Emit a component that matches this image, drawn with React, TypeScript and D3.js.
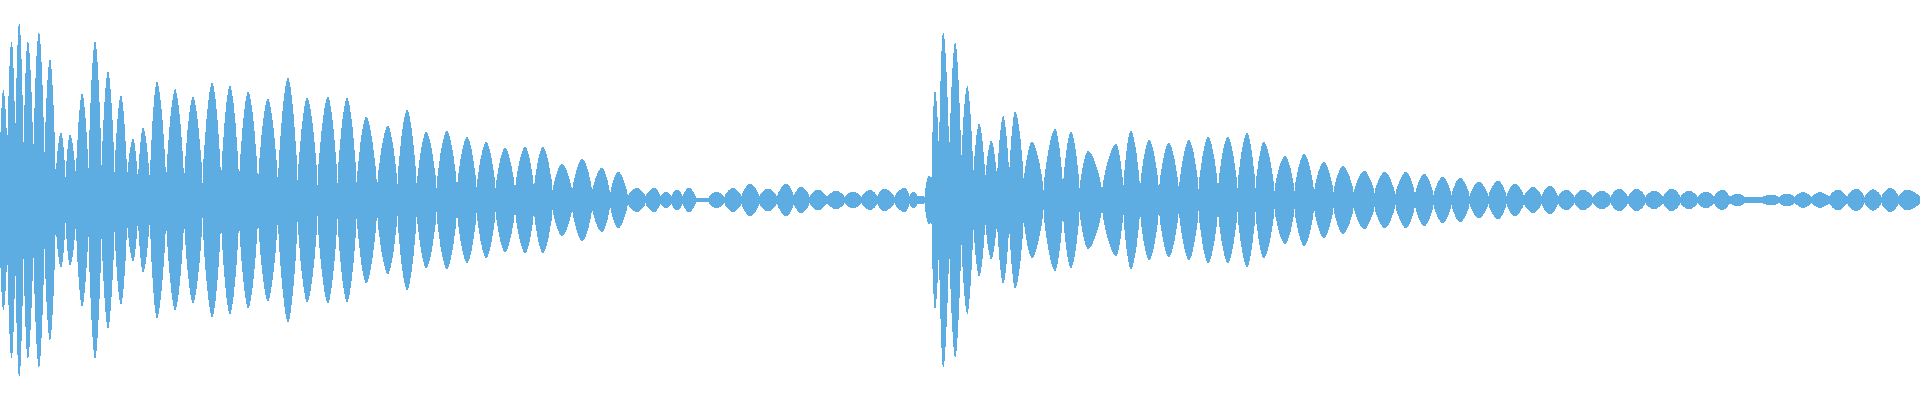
import React from "react";
import * as d3 from "d3";

// Lobe (envelope peak) times in milliseconds
const lobeTimes = [
  7, 24, 40, 58, 81, 104, 127, 146, 171, 198, 225, 252, 277, 298, 327, 365, 402, 442, 479, 517,
  558, 600, 640, 683, 723, 763, 808, 848, 888, 931, 973, 1013, 1052, 1094, 1131, 1171, 1213, 1254, 1288, 1327,
  1363, 1388, 1410, 1435, 1463, 1492, 1527, 1563, 1600, 1638, 1669, 1704, 1742, 1777, 1813, 1842, 1885, 1904, 1919,
  1935, 1948, 1965, 1990, 2015, 2040, 2065, 2090, 2115, 2150, 2198, 2231, 2267, 2325, 2356, 2394, 2435, 2477, 2517, 2558,
  2598, 2633, 2677, 2717, 2758, 2798, 2842, 2885, 2929, 2967, 3006, 3042, 3081, 3121, 3156, 3194, 3229, 3263, 3298, 3338,
  3373, 3410, 3446, 3483, 3519, 3554, 3588, 3619, 3652, 3690, 3723, 3756, 3792, 3829, 3867, 3902, 3938, 3973,
];

// Peak amplitude of each lobe (normalised, full scale = 1)
const lobeAmps = [
  0.545, 0.79, 0.88, 0.79, 0.835, 0.7, 0.335, 0.325, 0.53, 0.79, 0.64, 0.52, 0.305, 0.36, 0.59, 0.55, 0.515, 0.585, 0.57, 0.54,
  0.505, 0.61, 0.51, 0.515, 0.51, 0.415, 0.37, 0.45, 0.34, 0.345, 0.315, 0.29, 0.26, 0.265, 0.265, 0.18, 0.205, 0.16, 0.14, 0.06,
  0.06, 0.04, 0.05, 0.06, 0.005, 0.04, 0.06, 0.08, 0.055, 0.08, 0.065, 0.05, 0.045, 0.04, 0.05, 0.055, 0.06, 0.04, 0.02,
  0.12, 0.54, 0.835, 0.785, 0.565, 0.38, 0.295, 0.415, 0.44, 0.29, 0.355, 0.34, 0.245, 0.28, 0.345, 0.3, 0.285, 0.3, 0.315, 0.315,
  0.335, 0.29, 0.22, 0.23, 0.19, 0.17, 0.145, 0.14, 0.14, 0.13, 0.115, 0.11, 0.09, 0.095, 0.08, 0.065, 0.07, 0.05, 0.05, 0.045,
  0.055, 0.055, 0.045, 0.055, 0.045, 0.04, 0.05, 0.03, 0.015, 0.025, 0.03, 0.0375, 0.0375, 0.05, 0.055, 0.0525, 0.06, 0.05,
];

// Base band (minimum envelope between lobes): segment end times (ms) and amplitude
const bandEnds = [46, 115, 285, 1250, 1929, 2027, 2173, 2900, 4000];
const bandAmps = [0.125, 0.09, 0.05, 0.025, 0.01, 0.085, 0.055, 0.02, 0.01];

const DURATION = 4000;
const W = 1920;
const H = 400;
const COLOR = "#5DADE2";
const MIN_AMP = 0.0075;

// Bezier control factors for one half of a lobe (fraction of half-width, fraction of height)
const K1X = 0.12;
const K1Y = 0.45;
const K2X = 0.7;
const K2Y = 0.95;

export default function App() {
  const x = d3.scaleLinear().domain([0, DURATION]).range([0, W]);
  const y = d3.scaleLinear().domain([-1, 1]).range([H, 0]);

  const bandAt = (t: number) => {
    const i = Math.min(d3.bisectLeft(bandEnds, t), bandAmps.length - 1);
    return bandAmps[i];
  };

  const n = lobeTimes.length;
  const bounds: number[] = [0];
  for (let i = 1; i < n; i++) bounds.push((lobeTimes[i - 1] + lobeTimes[i]) / 2);
  bounds.push(DURATION);

  const paths = lobeTimes.map((t, i) => {
    const A = Math.max(lobeAmps[i], MIN_AMP);
    const v0 = Math.min(bandAt(bounds[i]), A);
    const v1 = Math.min(bandAt(bounds[i + 1]), A);
    const x0 = x(bounds[i]);
    const xc = x(t);
    const x1 = x(bounds[i + 1]);
    const hl = xc - x0;
    const hr = x1 - xc;
    const p = d3.path();
    p.moveTo(x0, y(v0));
    p.bezierCurveTo(
      x0 + K1X * hl, y(v0 + K1Y * (A - v0)),
      x0 + K2X * hl, y(v0 + K2Y * (A - v0)),
      xc, y(A)
    );
    p.bezierCurveTo(
      x1 - K2X * hr, y(v1 + K2Y * (A - v1)),
      x1 - K1X * hr, y(v1 + K1Y * (A - v1)),
      x1, y(v1)
    );
    p.lineTo(x1, y(-v1));
    p.bezierCurveTo(
      x1 - K1X * hr, y(-(v1 + K1Y * (A - v1))),
      x1 - K2X * hr, y(-(v1 + K2Y * (A - v1))),
      xc, y(-A)
    );
    p.bezierCurveTo(
      x0 + K2X * hl, y(-(v0 + K2Y * (A - v0))),
      x0 + K1X * hl, y(-(v0 + K1Y * (A - v0))),
      x0, y(-v0)
    );
    p.closePath();
    return p.toString();
  });

  return (
    <svg
      width={W}
      height={H}
      style={{ position: "absolute", left: 0, top: 0, display: "block" }}
    >
      <rect x={0} y={0} width={W} height={H} fill="#ffffff" />
      <line
        x1={x(0)} x2={x(DURATION)} y1={y(0)} y2={y(0)}
        stroke={COLOR} strokeWidth={2} shapeRendering="crispEdges"
      />
      {paths.map((d, i) => (
        <path key={i} d={d} fill={COLOR} stroke={COLOR} strokeWidth={1} shapeRendering="crispEdges" />
      ))}
    </svg>
  );
}
